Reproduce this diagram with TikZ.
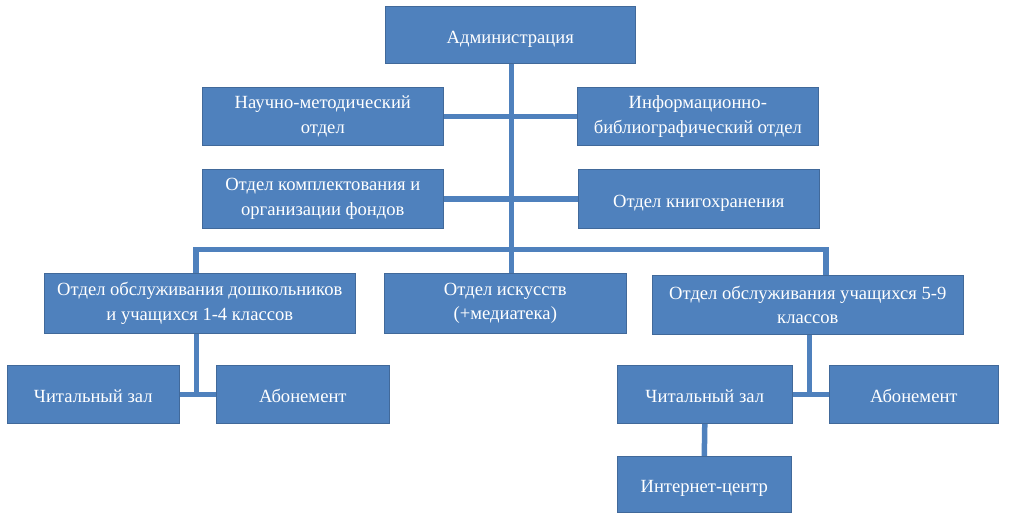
\documentclass[tikz,border=0pt]{standalone}
\usepackage{fontspec}
\setmainfont{Liberation Serif}
\usetikzlibrary{backgrounds}
\definecolor{boxblue}{HTML}{4F81BD}
\definecolor{boxedge}{HTML}{41699A}
\definecolor{linkblue}{HTML}{4F81BD}
\begin{document}
\begin{tikzpicture}[x=1pt,y=-1pt,
  box/.style={draw=boxedge,line width=0.6pt,fill=boxblue,text=white,
    align=center,anchor=north west,inner sep=2pt,
    font=\fontsize{18.6}{24.5}\selectfont},
  oneline/.style={text height=17pt,text depth=0pt},
  link/.style={draw=linkblue,line width=5.5pt}]
\useasboundingbox (0,0) rectangle (1010,523);
\node[box,oneline,minimum width=250pt,minimum height=57pt] (adm) at (385,6) {Администрация};
\node[box,minimum width=241pt,minimum height=58pt] (nmo) at (202,87) {Научно-методический\\отдел};
\node[box,minimum width=241pt,minimum height=58pt] (info) at (577,87) {Информационно-\\библиографический отдел};
\node[box,minimum width=241pt,minimum height=59pt] (kompl) at (202,169) {Отдел комплектования и\\организации фондов};
\node[box,oneline,minimum width=241pt,minimum height=59pt] (khran) at (578,169) {Отдел книгохранения};
\node[box,minimum width=311pt,minimum height=60pt] (doshk) at (44,273) {Отдел обслуживания дошкольников\\и учащихся 1-4 классов};
\node[box,minimum width=242pt,minimum height=60pt] (art) at (384,273) {Отдел искусств\\(+медиатека)};
\node[box,minimum width=311pt,minimum height=59pt] (uch) at (652,275) {Отдел обслуживания учащихся 5-9\\классов};
\node[box,oneline,minimum width=172pt,minimum height=58pt] (czL) at (7,365) {Читальный зал};
\node[box,oneline,minimum width=173pt,minimum height=58pt] (abL) at (216,365) {Абонемент};
\node[box,oneline,minimum width=175pt,minimum height=58pt] (czR) at (617,365) {Читальный зал};
\node[box,oneline,minimum width=169pt,minimum height=58pt] (abR) at (829,365) {Абонемент};
\node[box,oneline,minimum width=174pt,minimum height=56pt] (inet) at (617,456) {Интернет-центр};
\coordinate (busL) at (196,249.5);
\coordinate (busR) at (826,249.5);
\begin{pgfonlayer}{background}
\draw[link] ([xshift=1pt]adm.south) -- ([xshift=1pt]adm.south |- art.north);
\draw[link] (nmo.east) -- (info.west);
\draw[link] (kompl.east) -- (khran.west);
\draw[link] (busL |- doshk.north) -- (busL) -- (busR) -- (busR |- uch.north);
\draw[link] ([xshift=-3.5pt]doshk.south) -- ([xshift=-3.5pt]doshk.south |- czL.east);
\draw[link] (czL.east) -- (abL.west);
\draw[link] ([xshift=1.5pt]uch.south) -- ([xshift=1.5pt]uch.south |- czR.east);
\draw[link] (czR.east) -- (abR.west);
\draw[link] (czR.south) -- (inet.north);
\end{pgfonlayer}
\end{tikzpicture}
\end{document}
